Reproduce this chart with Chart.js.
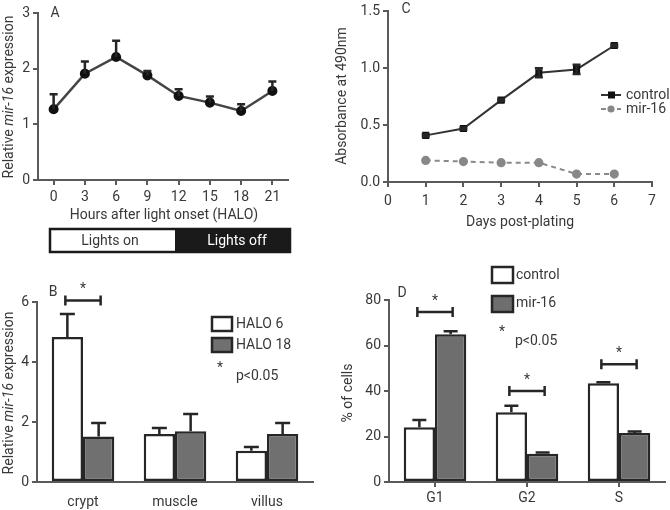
<!DOCTYPE html>
<html>
<head>
<meta charset="utf-8">
<script src="https://cdn.jsdelivr.net/npm/chart.js@4.4.1/dist/chart.umd.min.js"></script>
<style>
body { margin: 0; background: #fff; width: 670px; height: 510px; position: relative; overflow: hidden; }
.panel { position: absolute; }
</style>
</head>
<body>
<div class="panel" style="left:0;top:0;width:330px;height:260px"><canvas id="chartA"></canvas></div>
<div class="panel" style="left:330px;top:0;width:340px;height:250px"><canvas id="chartC"></canvas></div>
<div class="panel" style="left:0;top:260px;width:330px;height:250px"><canvas id="chartB"></canvas></div>
<div class="panel" style="left:330px;top:260px;width:340px;height:250px"><canvas id="chartD"></canvas></div>
<script>
// panel A - daily rhythm
const hoursA = [0, 3, 6, 9, 12, 15, 18, 21];
const exprA = [1.27, 1.91, 2.21, 1.88, 1.51, 1.39, 1.24, 1.60];
const errA = [0.27, 0.22, 0.29, 0.08, 0.12, 0.11, 0.12, 0.17];

// panel C - proliferation
const daysC = [1, 2, 3, 4, 5, 6];
const controlC = [0.41, 0.47, 0.72, 0.96, 0.99, 1.20];
const controlErrC = [0.01, 0.01, 0.01, 0.04, 0.04, 0.01];
const mirC = [0.19, 0.18, 0.17, 0.17, 0.07, 0.07];

// panel B - tissues
const tissuesB = ["crypt", "muscle", "villus"];
const halo6B = [4.83, 1.60, 1.04];
const halo6ErrB = [0.77, 0.20, 0.13];
const halo18B = [1.52, 1.69, 1.60];
const halo18ErrB = [0.45, 0.58, 0.37];
const sigB = [6.05, null, null];

// panel D - cell cycle
const phasesD = ["G1", "G2", "S"];
const controlD = [24.1, 30.7, 43.4];
const controlErrD = [3.2, 2.8, 0.5];
const mirD = [64.9, 12.4, 21.5];
const mirErrD = [1.4, 0.6, 0.7];
const sigD = [74.7, 40, 51.8];

const FONT = "Roboto, 'Liberation Sans', sans-serif";
const TXT = "#383838";
const AX = "#5a5a5a";
const DARK = "#262626";
Chart.defaults.font.family = FONT;
Chart.defaults.font.size = 14;
Chart.defaults.color = TXT;
Chart.defaults.animation = false;

function axisGrid(show) {
    return { display: show, drawOnChartArea: false, drawTicks: true, tickLength: 5, color: AX, lineWidth: 2 };
}
const axisBorder = { display: true, color: AX, width: 2 };

function text(ctx, s, x, y, align, italic) {
    ctx.font = (italic ? "italic " : "") + "14px " + FONT;
    ctx.fillStyle = TXT;
    ctx.textAlign = align || "center";
    ctx.textBaseline = "middle";
    ctx.fillText(s, x, y);
}

// rotated y title, parts can be italic
function yTitle(ctx, x, cy, parts) {
    ctx.save();
    ctx.translate(x, cy);
    ctx.rotate(-Math.PI / 2);
    let total = 0;
    parts.forEach(p => {
        ctx.font = (p[1] ? "italic " : "") + "14px " + FONT;
        total += ctx.measureText(p[0]).width;
    });
    let pos = -total / 2;
    parts.forEach(p => {
        ctx.font = (p[1] ? "italic " : "") + "14px " + FONT;
        ctx.fillStyle = TXT;
        ctx.textAlign = "left";
        ctx.textBaseline = "middle";
        ctx.fillText(p[0], pos, 0);
        pos += ctx.measureText(p[0]).width;
    });
    ctx.restore();
}

// error bars: list of {ds, err, both, cap}
const errorBars = {
    id: "errorBars",
    afterDatasetsDraw(chart, args, opts) {
        const ctx = chart.ctx;
        const y = chart.scales.y;
        ctx.save();
        ctx.strokeStyle = DARK;
        ctx.lineWidth = 2.5;
        (opts.list || []).forEach(e => {
            const meta = chart.getDatasetMeta(e.ds);
            const vals = chart.data.datasets[e.ds].data;
            meta.data.forEach((el, i) => {
                const v = typeof vals[i] === "object" ? vals[i].y : vals[i];
                const top = y.getPixelForValue(v + e.err[i]);
                const bot = e.both ? y.getPixelForValue(v - e.err[i]) : el.y;
                ctx.beginPath();
                ctx.moveTo(el.x, bot);
                ctx.lineTo(el.x, top);
                ctx.moveTo(el.x - e.cap / 2, top);
                ctx.lineTo(el.x + e.cap / 2, top);
                if (e.both) {
                    ctx.moveTo(el.x - e.cap / 2, bot);
                    ctx.lineTo(el.x + e.cap / 2, bot);
                }
                ctx.stroke();
            });
        });
        ctx.restore();
    }
};

// significance brackets between the two bars of a group
function drawBrackets(chart, sig) {
    const ctx = chart.ctx;
    const y = chart.scales.y;
    const m0 = chart.getDatasetMeta(0), m1 = chart.getDatasetMeta(1);
    ctx.save();
    ctx.strokeStyle = DARK;
    ctx.lineWidth = 2.5;
    sig.forEach((s, i) => {
        if (s === null) return;
        const x1 = m0.data[i].x - 2, x2 = m1.data[i].x + 2;
        const py = y.getPixelForValue(s);
        ctx.beginPath();
        ctx.moveTo(x1, py); ctx.lineTo(x2, py);
        ctx.moveTo(x1, py - 5); ctx.lineTo(x1, py + 5);
        ctx.moveTo(x2, py - 5); ctx.lineTo(x2, py + 5);
        ctx.stroke();
        text(ctx, "*", (x1 + x2) / 2, py - 11);
    });
    ctx.restore();
}

function legendBox(ctx, x, y, w, h, fill) {
    ctx.save();
    ctx.fillStyle = fill;
    ctx.strokeStyle = DARK;
    ctx.lineWidth = 2.5;
    ctx.fillRect(x, y, w, h);
    ctx.strokeRect(x, y, w, h);
    ctx.restore();
}

// ---------- A ----------
new Chart(document.getElementById("chartA"), {
    type: "line",
    data: {
        datasets: [{
            data: hoursA.map((h, i) => ({ x: h, y: exprA[i] })),
            borderColor: "#444",
            borderWidth: 2.5,
            pointRadius: 3.8,
            pointBackgroundColor: "#111",
            pointBorderColor: "#111"
        }]
    },
    options: {
        responsive: true,
        maintainAspectRatio: false,
        layout: { padding: { top: 13, right: 42, left: 0, bottom: 0 } },
        plugins: {
            legend: { display: false },
            tooltip: { enabled: false },
            errorBars: { list: [{ ds: 0, err: errA, both: false, cap: 8 }] }
        },
        scales: {
            x: {
                type: "linear", min: -1.5, max: 22.5,
                afterBuildTicks: s => { s.ticks = hoursA.map(v => ({ value: v })); },
                afterFit: s => { s.height = 80; },
                grid: axisGrid(true), border: axisBorder,
                ticks: { padding: 4, autoSkip: false, maxRotation: 0 }
            },
            y: {
                min: 0, max: 3,
                ticks: { stepSize: 1, padding: 3 },
                afterFit: s => { s.width = 38; },
                grid: axisGrid(true), border: axisBorder
            }
        }
    },
    plugins: [errorBars, {
        id: "decorA",
        afterDraw(chart) {
            const ctx = chart.ctx;
            text(ctx, "A", 55, 13);
            yTitle(ctx, 9, 97, [["Relative ", false], ["mir-16", true], [" expression", false]]);
            text(ctx, "Hours after light onset (HALO)", 164, 215);
            ctx.save();
            ctx.fillStyle = "#fff";
            ctx.fillRect(50, 229, 125, 23);
            ctx.fillStyle = "#1a1a1a";
            ctx.fillRect(175, 229, 115, 23);
            ctx.strokeStyle = "#1a1a1a";
            ctx.lineWidth = 2.5;
            ctx.strokeRect(50, 229, 240, 23);
            ctx.restore();
            text(ctx, "Lights on", 110, 241);
            ctx.save();
            ctx.font = "14px " + FONT;
            ctx.fillStyle = "#fff";
            ctx.textAlign = "center";
            ctx.textBaseline = "middle";
            ctx.fillText("Lights off", 237, 241);
            ctx.restore();
        }
    }]
});

// ---------- C ----------
new Chart(document.getElementById("chartC"), {
    type: "line",
    data: {
        datasets: [{
            label: "control",
            data: daysC.map((d, i) => ({ x: d, y: controlC[i] })),
            borderColor: "#333",
            borderWidth: 2,
            pointStyle: "rect",
            pointRadius: 3.6,
            pointBackgroundColor: "#111",
            pointBorderColor: "#111"
        }, {
            label: "mir-16",
            data: daysC.map((d, i) => ({ x: d, y: mirC[i] })),
            borderColor: "#8a8a8a",
            borderWidth: 2,
            borderDash: [5, 4],
            pointStyle: "circle",
            pointRadius: 3.6,
            pointBackgroundColor: "#888",
            pointBorderColor: "#888"
        }]
    },
    options: {
        responsive: true,
        maintainAspectRatio: false,
        layout: { padding: { top: 7, right: 18, left: 0, bottom: 0 } },
        plugins: {
            legend: { display: false },
            tooltip: { enabled: false },
            errorBars: { list: [{ ds: 0, err: controlErrC, both: true, cap: 8 }] }
        },
        scales: {
            x: {
                type: "linear", min: 0, max: 7,
                ticks: { stepSize: 1, padding: 6, maxRotation: 0 },
                afterFit: s => { s.height = 68; },
                grid: axisGrid(true), border: axisBorder
            },
            y: {
                min: 0, max: 1.5,
                ticks: { stepSize: 0.5, padding: 3, callback: v => v.toFixed(1) },
                afterFit: s => { s.width = 58; },
                grid: axisGrid(true), border: axisBorder
            }
        }
    },
    plugins: [errorBars, {
        id: "decorC",
        afterDraw(chart) {
            const ctx = chart.ctx;
            text(ctx, "C", 76, 9);
            yTitle(ctx, 12, 96, [["Absorbance at 490nm", false]]);
            text(ctx, "Days post-plating", 190, 222);
            ctx.save();
            ctx.strokeStyle = "#333";
            ctx.lineWidth = 2;
            ctx.beginPath(); ctx.moveTo(271, 95); ctx.lineTo(291, 95); ctx.stroke();
            ctx.fillStyle = "#111";
            ctx.fillRect(278, 91.5, 7, 7);
            ctx.strokeStyle = "#8a8a8a";
            ctx.setLineDash([5, 3]);
            ctx.beginPath(); ctx.moveTo(271, 109); ctx.lineTo(291, 109); ctx.stroke();
            ctx.setLineDash([]);
            ctx.fillStyle = "#888";
            ctx.beginPath(); ctx.arc(281, 109, 3.6, 0, Math.PI * 2); ctx.fill();
            ctx.restore();
            text(ctx, "control", 296, 95, "left");
            text(ctx, "mir-16", 296, 109, "left");
        }
    }]
});

// ---------- B ----------
new Chart(document.getElementById("chartB"), {
    type: "bar",
    data: {
        labels: tissuesB,
        datasets: [{
            label: "HALO 6", data: halo6B,
            backgroundColor: "#fff", borderColor: DARK, borderWidth: 2.5, borderSkipped: false
        }, {
            label: "HALO 18", data: halo18B,
            backgroundColor: "#707070", borderColor: DARK, borderWidth: 2.5, borderSkipped: false
        }]
    },
    options: {
        responsive: true,
        maintainAspectRatio: false,
        layout: { padding: { top: 42, right: 17, left: 0, bottom: 0 } },
        datasets: { bar: { barPercentage: 1, categoryPercentage: 0.68 } },
        plugins: {
            legend: { display: false },
            tooltip: { enabled: false },
            errorBars: { list: [
                { ds: 0, err: halo6ErrB, both: false, cap: 15 },
                { ds: 1, err: halo18ErrB, both: false, cap: 15 }
            ] }
        },
        scales: {
            x: {
                ticks: { padding: 4 },
                afterFit: s => { s.height = 28; },
                grid: { display: false }, border: axisBorder
            },
            y: {
                min: 0, max: 6,
                ticks: { stepSize: 2, padding: 3 },
                afterFit: s => { s.width = 37; },
                grid: axisGrid(true), border: axisBorder
            }
        }
    },
    plugins: [errorBars, {
        id: "decorB",
        afterDraw(chart) {
            const ctx = chart.ctx;
            text(ctx, "B", 53, 32);
            yTitle(ctx, 9, 133, [["Relative ", false], ["mir-16", true], [" expression", false]]);
            drawBrackets(chart, sigB);
            legendBox(ctx, 212, 57, 20, 14, "#fff");
            legendBox(ctx, 212, 78, 20, 14, "#707070");
            text(ctx, "HALO 6", 236, 64, "left");
            text(ctx, "HALO 18", 236, 85, "left");
            text(ctx, "*", 220, 108);
            text(ctx, "p<0.05", 236, 116, "left");
        }
    }]
});

// ---------- D ----------
new Chart(document.getElementById("chartD"), {
    type: "bar",
    data: {
        labels: phasesD,
        datasets: [{
            label: "control", data: controlD,
            backgroundColor: "#fff", borderColor: DARK, borderWidth: 2.5, borderSkipped: false
        }, {
            label: "mir-16", data: mirD,
            backgroundColor: "#6e6e6e", borderColor: DARK, borderWidth: 2.5, borderSkipped: false
        }]
    },
    options: {
        responsive: true,
        maintainAspectRatio: false,
        layout: { padding: { top: 40, right: 5, left: 0, bottom: 0 } },
        datasets: { bar: { barPercentage: 1, categoryPercentage: 0.68 } },
        plugins: {
            legend: { display: false },
            tooltip: { enabled: false },
            errorBars: { list: [
                { ds: 0, err: controlErrD, both: false, cap: 14 },
                { ds: 1, err: mirErrD, both: false, cap: 14 }
            ] }
        },
        scales: {
            x: {
                ticks: { padding: 3 },
                afterFit: s => { s.height = 28; },
                grid: Object.assign(axisGrid(true), { offset: false }), border: axisBorder
            },
            y: {
                min: 0, max: 80,
                ticks: { stepSize: 20, padding: 3 },
                afterFit: s => { s.width = 59; },
                grid: axisGrid(true), border: axisBorder
            }
        }
    },
    plugins: [errorBars, {
        id: "decorD",
        afterDraw(chart) {
            const ctx = chart.ctx;
            text(ctx, "D", 72, 33);
            yTitle(ctx, 18, 133, [["% of cells", false]]);
            drawBrackets(chart, sigD);
            legendBox(ctx, 162, 7, 21, 16, "#fff");
            legendBox(ctx, 162, 36, 21, 16, "#6e6e6e");
            text(ctx, "control", 186, 15, "left");
            text(ctx, "mir-16", 186, 43, "left");
            text(ctx, "*", 172, 72);
            text(ctx, "p<0.05", 185, 81, "left");
        }
    }]
});
</script>
</body>
</html>
